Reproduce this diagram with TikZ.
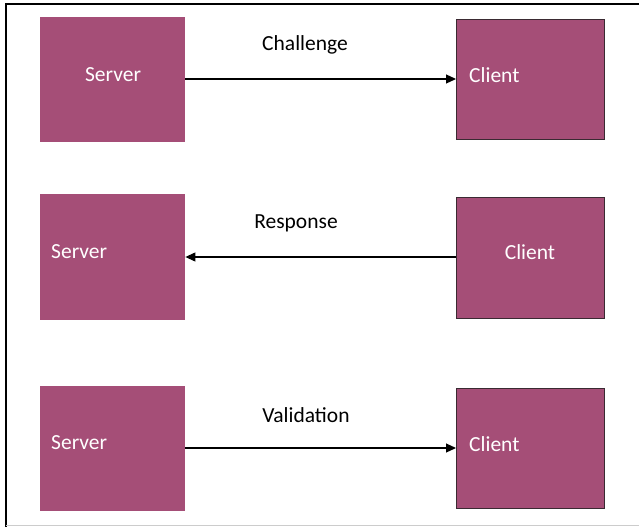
\documentclass[tikz,border=0pt]{standalone}
\usepackage{fontspec}
\setmainfont{Carlito}
\usetikzlibrary{arrows.meta}
\definecolor{boxfill}{HTML}{A54E77}
\definecolor{boxedge}{HTML}{3A2A32}
\tikzset{
  serverbox/.style={fill=boxfill, draw=none, minimum width=145pt, minimum height=125pt, inner sep=0pt, anchor=north west},
  clientbox/.style={fill=boxfill, draw=boxedge, line width=0.9pt, minimum width=148pt, minimum height=120pt, inner sep=0pt, anchor=north west},
  boxtext/.style={text=white, font=\fontsize{21.5}{25}\selectfont, inner sep=0pt},
  msgtext/.style={text=black, font=\fontsize{21.5}{25}\selectfont, inner sep=0pt},
  msgarrow/.style={draw=black, line width=1.1pt, -{Triangle[length=10pt,width=9pt]}}
}
\begin{document}
\begin{tikzpicture}[x=1pt,y=-1pt]
\useasboundingbox (0,0) rectangle (639,527);
% outer frame
\draw[black, line width=2pt] (6,527) -- (6,4) -- (639,4);
\draw[gray!40, line width=1.2pt] (6,525.5) -- (639,525.5);

% row 1: challenge
\node[serverbox] (s1) at (40,17) {};
\node[clientbox] (c1) at (456,19) {};
\node[boxtext] (s1t) at (113,75) {Server};
\node[boxtext, anchor=west] (c1t) at (469,75) {Client};
\draw[msgarrow] (s1.east |- 0,79) -- (c1.west |- 0,79);
\node[msgtext] (m1) at (305,45) {Challenge};

% row 2: response
\node[serverbox, minimum height=126pt] (s2) at (40,194) {};
\node[clientbox, minimum height=121pt] (c2) at (456,197) {};
\node[boxtext, anchor=west] (s2t) at (51,252) {Server};
\node[boxtext] (c2t) at (530,252) {Client};
\draw[msgarrow] (c2.west |- 0,257) -- (s2.east |- 0,257);
\node[msgtext] (m2) at (296,223) {Response};

% row 3: validation
\node[serverbox] (s3) at (40,386) {};
\node[clientbox] (c3) at (456,388) {};
\node[boxtext, anchor=west] (s3t) at (51,443) {Server};
\node[boxtext, anchor=west] (c3t) at (469,444) {Client};
\draw[msgarrow] (s3.east |- 0,448) -- (c3.west |- 0,448);
\node[msgtext] (m3) at (306,415) {Validation};
\end{tikzpicture}
\end{document}
